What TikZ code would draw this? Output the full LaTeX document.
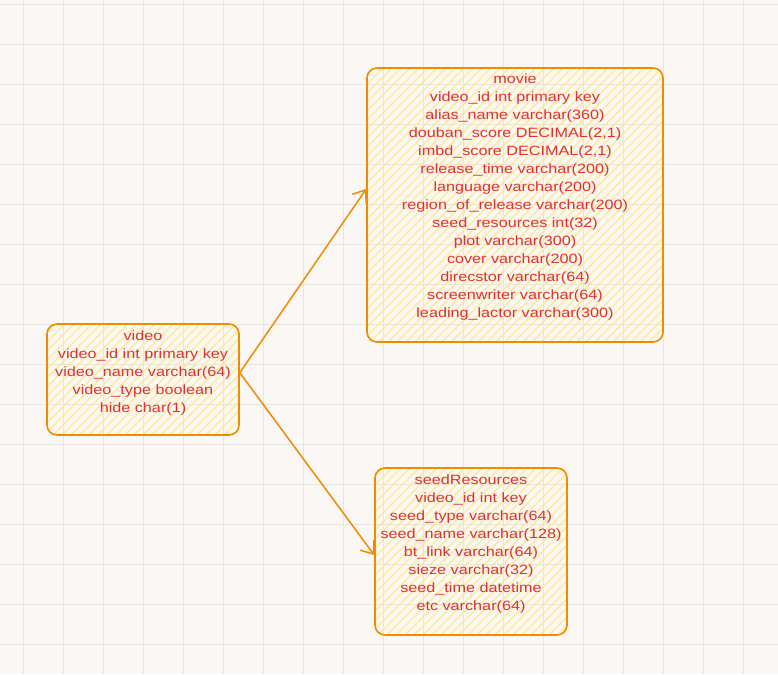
\documentclass[tikz,border=0pt]{standalone}
\usepackage{fontspec}
\setmainfont[FakeStretch=1.2]{Liberation Sans}
\usetikzlibrary{arrows.meta}
\definecolor{bg}{HTML}{FAF7F4}
\definecolor{gridc}{HTML}{E8E4E0}
\definecolor{hatchc}{HTML}{FFE98F}
\definecolor{edge}{HTML}{F08C00}
\definecolor{txtc}{HTML}{E03131}
\tikzset{
  boxstyle/.style={draw=edge, line width=1.6pt, rounded corners=10pt, inner sep=0pt},
  hatch/.style={hatchc, line width=1.2pt},
  txt/.style={text=txtc, align=center, inner sep=0pt, anchor=north, font=\fontsize{13.5}{18}\selectfont},
  conn/.style={draw=edge, line width=1.5pt, -{Straight Barb[length=11pt,width=17pt,line width=1.5pt]}},
}
\begin{document}
\begin{tikzpicture}[x=1pt,y=-1pt]
\fill[bg] (0,0) rectangle (778,674);
\useasboundingbox (0,0) rectangle (778,674);
\foreach \gx in {23,63,...,778} \draw[gridc, line width=0.8pt] (\gx,0) -- (\gx,674);
\foreach \gy in {4,44,...,674} \draw[gridc, line width=0.8pt] (0,\gy) -- (778,\gy);
% hatches
\begin{scope}
\clip[rounded corners=10pt] (367,68) rectangle (663,342);
\foreach \k in {91,100,...,670} \draw[hatch] (\k,342) -- ++(274,-274);
\end{scope}
\begin{scope}
\clip[rounded corners=10pt] (47,324) rectangle (239,435);
\foreach \k in {-64,-55,...,245} \draw[hatch] (\k,435) -- ++(111,-111);
\end{scope}
\begin{scope}
\clip[rounded corners=10pt] (375,468) rectangle (567,635);
\foreach \k in {207,216,...,575} \draw[hatch] (\k,635) -- ++(167,-167);
\end{scope}
% boxes
\node[boxstyle, minimum width=296pt, minimum height=274pt] (movie) at (515,205) {};
\node[boxstyle, minimum width=192pt, minimum height=111pt] (video) at (143,379.5) {};
\node[boxstyle, minimum width=192pt, minimum height=167pt] (seed) at (471,551.5) {};
% texts
\node[txt] (movietxt) at (515,74) {movie\\video\_id int primary key\\alias\_name varchar(360)\\douban\_score DECIMAL(2,1)\\imbd\_score DECIMAL(2,1)\\release\_time varchar(200)\\language varchar(200)\\region\_of\_release varchar(200)\\seed\_resources int(32)\\plot varchar(300)\\cover varchar(200)\\direcstor varchar(64)\\screenwriter varchar(64)\\leading\_lactor varchar(300)};
\node[txt] (videotxt) at (143,331) {video\\video\_id int primary key\\video\_name varchar(64)\\video\_type boolean\\hide char(1)};
\node[txt] (seedtxt) at (471,475) {seedResources\\video\_id int key\\seed\_type varchar(64)\\seed\_name varchar(128)\\bt\_link varchar(64)\\sieze varchar(32)\\seed\_time datetime\\etc varchar(64)};
% connectors
\coordinate (vstart) at ([yshift=6.8pt]video.east);
\draw[conn] (vstart) -- ([yshift=16pt]movie.west);
\draw[conn] (vstart) -- ([yshift=-3.5pt]seed.west);
\end{tikzpicture}
\end{document}
